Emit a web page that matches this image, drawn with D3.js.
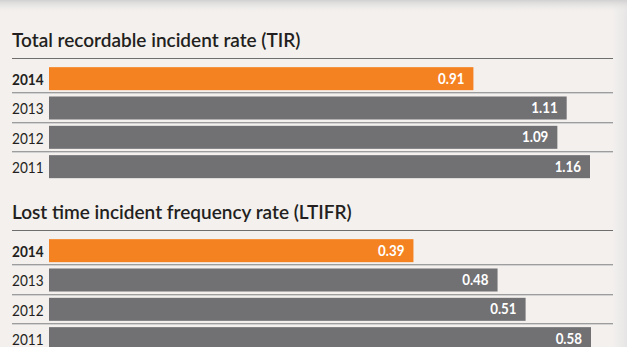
<!DOCTYPE html>
<html>
<head>
<meta charset="utf-8">
<script src="https://cdn.jsdelivr.net/npm/d3@7"></script>
<style>
  html, body { margin: 0; padding: 0; background: #f3f1ef; }
  svg { display: block; }
  text { font-family: Lato, "Open Sans", sans-serif; }
</style>
</head>
<body>
<svg id="chart" width="627" height="347"></svg>
<script>
// Safety performance data
const years = ["2014", "2013", "2012", "2011"];
const tirValues = [0.91, 1.11, 1.09, 1.16];
const ltifrValues = [0.39, 0.48, 0.51, 0.58];
const titles = ["Total recordable incident rate (TIR)", "Lost time incident frequency rate (LTIFR)"];

const W = 627, H = 347;
const svg = d3.select("#chart");

const orange = "#f58220";
const grey = "#717073";
const ink = "#231f20";
const narrow = 0.85; // horizontal squeeze for the row labels

// Background with soft shading at the top and right edge
const defs = svg.append("defs");
const topGrad = defs.append("linearGradient").attr("id", "topShade")
  .attr("x1", 0).attr("y1", 0).attr("x2", 0).attr("y2", 1);
topGrad.append("stop").attr("offset", 0).attr("stop-color", "#d2d1d1");
topGrad.append("stop").attr("offset", 1).attr("stop-color", "#f3f1ef").attr("stop-opacity", 0);
const rightGrad = defs.append("linearGradient").attr("id", "rightShade")
  .attr("x1", 0).attr("y1", 0).attr("x2", 1).attr("y2", 0);
rightGrad.append("stop").attr("offset", 0).attr("stop-color", "#e9e8e8").attr("stop-opacity", 0);
rightGrad.append("stop").attr("offset", 1).attr("stop-color", "#e6e5e5");

svg.append("rect").attr("width", W).attr("height", H).attr("fill", "#f3f0ee");
svg.append("rect").attr("x", 612).attr("width", 15).attr("height", H).attr("fill", "url(#rightShade)");
svg.append("rect").attr("width", W).attr("height", 13).attr("fill", "url(#topShade)");

const left = 12, right = 613, barX = 49;

function panel(values, title, ruleY, xMax, xEnd) {
  const g = svg.append("g");

  const x = d3.scaleLinear().domain([0, xMax]).range([barX, xEnd]);
  const y = d3.scaleBand().domain(years)
    .range([ruleY + 6, ruleY + 6 + 4 * 29.33])
    .paddingInner(0.216).paddingOuter(0.108);
  const data = years.map((yr, i) => ({ year: yr, value: values[i] }));

  g.append("text")
    .attr("x", left).attr("y", ruleY - 11)
    .attr("fill", ink).attr("font-size", 19).attr("font-weight", 600)
    .text(title);

  g.append("line")
    .attr("x1", left).attr("x2", right)
    .attr("y1", ruleY + 0.5).attr("y2", ruleY + 0.5)
    .attr("stroke", "#6e6e6e").attr("stroke-width", 1);

  // separators between rows
  const seps = years.slice(1);
  const sepY = d => y(d) - y.step() * y.paddingInner() / 2;
  g.selectAll(".sepA").data(seps).join("line")
    .attr("x1", left).attr("x2", right)
    .attr("y1", d => Math.round(sepY(d)) - 0.5).attr("y2", d => Math.round(sepY(d)) - 0.5)
    .attr("stroke", "#9d9d9d");
  g.selectAll(".sepB").data(seps).join("line")
    .attr("x1", left).attr("x2", right)
    .attr("y1", d => Math.round(sepY(d)) + 0.5).attr("y2", d => Math.round(sepY(d)) + 0.5)
    .attr("stroke", "#d2d2d2");

  g.selectAll("rect.bar").data(data).join("rect")
    .attr("class", "bar")
    .attr("x", x(0)).attr("y", d => y(d.year))
    .attr("width", d => x(d.value) - x(0))
    .attr("height", y.bandwidth())
    .attr("fill", (d, i) => i === 0 ? orange : grey);

  g.selectAll("text.year").data(data).join("text")
    .attr("class", "year")
    .attr("transform", d => `translate(${left},${y(d.year) + y.bandwidth() / 2 + 6.5}) scale(${narrow},1)`)
    .attr("fill", ink).attr("font-size", 16)
    .attr("font-weight", (d, i) => i === 0 ? 700 : 400)
    .text(d => d.year);

  g.selectAll("text.val").data(data).join("text")
    .attr("class", "val")
    .attr("transform", d => `translate(${x(d.value) - 9},${y(d.year) + y.bandwidth() / 2 + 5}) scale(0.92,1)`)
    .attr("text-anchor", "end")
    .attr("fill", "#ffffff").attr("font-size", 14.5).attr("font-weight", 700)
    .text(d => d.value.toFixed(2));
}

panel(tirValues, titles[0], 58, 1.16, 590);
panel(ltifrValues, titles[1], 230, 0.58, 591);
</script>
</body>
</html>
